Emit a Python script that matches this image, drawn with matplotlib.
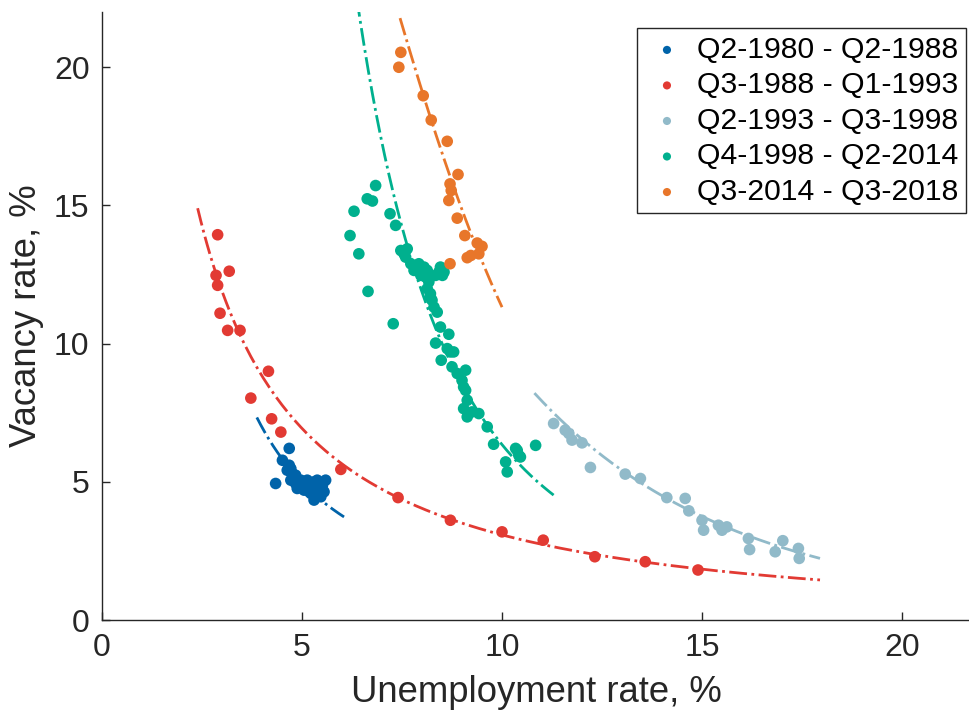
import numpy as np
import matplotlib; matplotlib.use('Agg')
import matplotlib.pyplot as plt

plt.rcParams.update({
    'font.family': ['Liberation Sans', 'DejaVu Sans'],
    'axes.spines.top': False, 'axes.spines.right': False,
    'axes.edgecolor': '#262626', 'axes.linewidth': 1.0,
    'xtick.color': '#262626', 'ytick.color': '#262626',
    'xtick.direction': 'in', 'ytick.direction': 'in',
})

LABELS = ['Q2-1980 - Q2-1988', 'Q3-1988 - Q1-1993', 'Q2-1993 - Q3-1998',
          'Q4-1998 - Q2-2014', 'Q3-2014 - Q3-2018']
COLORS = ['#0063a9', '#e23a33', '#91bac9', '#00b08e', '#e8762a']

# unemployment (u) / vacancy (v) per period
u1 = [4.68, 4.51, 4.34, 4.72, 4.80, 4.84, 4.97, 5.13, 5.30, 5.59, 5.51, 5.34, 5.22,
      5.05, 4.88, 4.72, 4.63, 5.38, 5.42, 5.26, 5.13, 4.97, 4.84, 5.51, 5.30, 5.18,
      4.76, 5.05, 5.22, 5.55, 5.38, 5.47, 4.68]
v1 = [6.21, 5.78, 4.94, 5.48, 5.18, 4.94, 4.82, 5.06, 5.00, 5.06, 4.70, 4.46, 4.58,
      4.70, 4.76, 5.06, 5.42, 4.82, 4.58, 4.76, 4.76, 5.06, 5.24, 4.88, 4.34, 4.64,
      5.30, 4.94, 4.94, 4.64, 5.06, 4.46, 5.60]

u2 = [2.89, 3.18, 2.85, 2.89, 2.95, 3.14, 3.45, 4.16, 3.72, 4.24, 4.47, 5.97, 7.40,
      8.71, 10.0, 11.03, 12.32, 13.58, 14.9]
v2 = [13.94, 12.62, 12.47, 12.11, 11.10, 10.48, 10.48, 9.00, 8.03, 7.28, 6.80, 5.45,
      4.43, 3.61, 3.19, 2.89, 2.29, 2.11, 1.81]

u3 = [11.29, 11.67, 11.75, 12.00, 12.21, 13.08, 13.46, 14.12, 14.58, 14.67, 15.00,
      15.04, 15.41, 15.62, 15.50, 16.16, 16.19, 16.83, 17.02, 17.41, 17.43, 11.58]
v3 = [7.11, 6.75, 6.51, 6.41, 5.52, 5.28, 5.12, 4.43, 4.40, 3.95, 3.61, 3.25, 3.43,
      3.37, 3.25, 2.95, 2.55, 2.47, 2.87, 2.59, 2.23, 6.87]

u4 = [6.84, 6.63, 6.76, 6.30, 7.20, 7.34, 6.20, 6.42, 7.47, 7.63, 7.59, 7.72, 7.80,
      7.92, 8.05, 7.97, 8.13, 8.21, 8.46, 8.51, 8.34, 6.65, 8.13, 8.21, 8.25, 8.30,
      8.38, 7.28, 8.46, 8.67, 8.34, 8.63, 8.79, 8.48, 8.75, 8.88, 9.09, 9.00, 9.09,
      9.13, 9.04, 9.13, 9.42, 9.63, 9.79, 10.34, 10.42, 10.09, 10.13, 10.84, 7.55,
      7.84, 8.00, 8.09, 8.17, 8.42, 8.55, 8.21, 8.71, 9.04, 9.25, 10.38, 10.46]
v4 = [15.72, 15.24, 15.16, 14.79, 14.70, 14.28, 13.91, 13.25, 13.37, 13.43, 13.13,
      12.89, 12.65, 12.89, 12.77, 12.47, 12.65, 12.41, 12.77, 12.47, 12.47, 11.89,
      11.99, 11.81, 11.57, 11.32, 11.14, 10.72, 10.60, 10.34, 10.02, 9.82, 9.70,
      9.40, 9.16, 8.92, 9.04, 8.67, 8.31, 7.95, 7.65, 7.35, 7.47, 6.99, 6.36, 6.21,
      5.96, 5.72, 5.36, 6.32, 13.25, 12.77, 12.59, 12.41, 12.23, 12.59, 12.59, 11.69,
      9.70, 8.43, 7.53, 6.14, 5.90]

u5 = [7.47, 7.42, 8.03, 8.23, 8.63, 8.90, 8.70, 8.73, 8.67, 8.88, 9.07, 9.38, 9.50,
      9.42, 9.13, 9.22, 8.70]
v5 = [20.54, 20.00, 18.97, 18.09, 17.32, 16.12, 15.78, 15.54, 15.18, 14.54, 13.91,
      13.64, 13.52, 13.25, 13.11, 13.19, 12.89]

FIT_U = [[3.87, 6.05], [2.39, 7.40, 17.95], [10.81, 14.12, 17.95],
         [7.09, 9.13, 11.29], [7.47, 8.05, 10.0]]
FIT_V = [[7.33, 3.73], [14.9, 4.43, 1.45], [8.21, 4.40, 2.23],
         [16.65, 8.19, 4.52], [21.68, 18.91, 11.32]]
FIT_RANGE = [(3.87, 6.05), (2.39, 17.95), (10.81, 17.95), (6.2, 11.29), (7.45, 10.0)]

U = [u1, u2, u3, u4, u5]
V = [v1, v2, v3, v4, v5]

fig = plt.figure(figsize=(9.70, 7.13), dpi=100)
ax = fig.add_axes([0.1052, 0.1304, 0.8948, 0.8528])

for i in range(5):
    c = COLORS[i]
    ax.scatter(U[i], V[i], s=70, color=c, edgecolors='none', label=LABELS[i], zorder=3)
    fu, fv = np.log(FIT_U[i]), np.log(FIT_V[i])
    p = np.polyfit(fu, fv, len(fu) - 1)          # smooth curve through the read points (log-log)
    xx = np.linspace(*FIT_RANGE[i], 200)
    ax.plot(xx, np.exp(np.polyval(p, np.log(xx))), '-.', color=c, lw=2.0, zorder=2)

ax.set_xlim(0, 21.7); ax.set_ylim(0, 22)
ax.set_xticks([0, 5, 10, 15, 20]); ax.set_yticks([0, 5, 10, 15, 20])
ax.tick_params(labelsize=23, length=6, width=1, pad=9)
ax.set_xlabel('Unemployment rate, %', fontsize=26.3, color='#262626', labelpad=9)
ax.set_ylabel('Vacancy rate, %', fontsize=26.3, color='#262626', labelpad=7)

leg = ax.legend(loc='upper right', bbox_to_anchor=(0.9954, 0.9732), borderaxespad=0,
                fontsize=21.7, fancybox=False, framealpha=1, edgecolor='#262626',
                handlelength=1.5, handletextpad=0.25, borderpad=0.25, labelspacing=0.25,
                markerscale=0.7)
leg.get_frame().set_linewidth(1.0)

fig.savefig('out.png', dpi=100)
